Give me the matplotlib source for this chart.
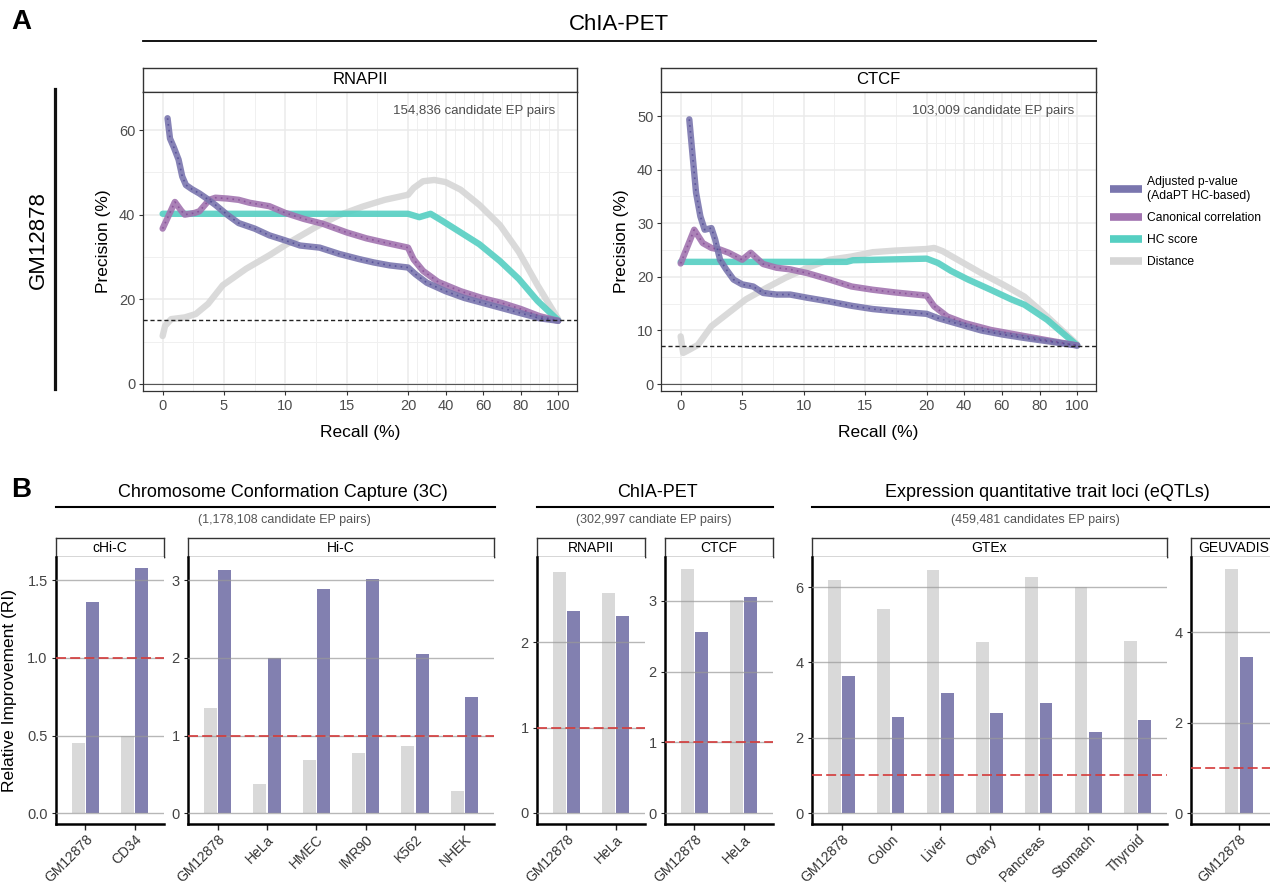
import numpy as np
import matplotlib
matplotlib.use("Agg")
import matplotlib.pyplot as plt
from matplotlib.lines import Line2D

plt.rcParams['font.family'] = ['Liberation Sans', 'DejaVu Sans']

W, H = 1270, 885

# ---------------- panel A: precision / recall curves (values in %) ----------------
methods = ["Adjusted p-value\n(AdaPT HC-based)", "Canonical correlation", "HC score", "Distance"]
line_colors = ["#7a76ae", "#a274b0", "#55cfc2", "#d6d6d6"]
dot_colors = ["#3f3789", "#7a3a8c", None, None]

rna_adj_recall = [0.4, 0.6, 0.9, 1.3, 1.6, 1.9, 2.4, 3.0, 3.6, 4.3, 5.3, 6.2, 7.5, 8.7, 10, 11.2, 12.8,
                  14.4, 16, 17.2, 18.5, 20, 24, 30, 40, 50, 60, 70, 80, 90, 100]
rna_adj_prec = [62.8, 58, 56, 53, 49, 47, 46, 45, 43.8, 42.3, 39.9, 38, 36.7, 35.1, 33.9, 32.7, 32.2,
                30.7, 29.5, 28.7, 28, 27.5, 25.9, 23.9, 21.9, 20.3, 19.1, 17.9, 16.7, 15.5, 14.9]
rna_can_recall = [0, 1.0, 1.5, 1.8, 2.6, 3.0, 3.8, 4.3, 5.3, 6.2, 7.1, 8.7, 10, 11.5, 13.1, 15, 16.6,
                  18.1, 20, 23, 28, 36, 48, 60, 70, 80, 90, 100]
rna_can_prec = [36.7, 43, 41, 40, 40.4, 40.8, 43.5, 44, 43.8, 43.5, 42.8, 42, 40.4, 39, 37.8, 35.8, 34.4,
                33.4, 32.2, 29.4, 26.7, 24.1, 21.9, 20.2, 19.1, 17.7, 16, 14.9]
rna_hc_recall = [0, 20, 26, 32, 38, 48, 58, 69, 79, 89, 100]
rna_hc_prec = [40.2, 40.2, 39.4, 40.2, 38.6, 35.8, 33, 29, 24.8, 19.6, 15]
rna_dist_recall = [0, 0.2, 0.7, 1.8, 2.7, 3.7, 4.9, 6.8, 8.7, 10.6, 12.5, 14.4, 16.3, 18.1, 20, 23, 28,
                   34, 40, 48, 58, 69, 79, 89, 100]
rna_dist_prec = [11.3, 13.7, 15.3, 15.7, 16.5, 18.9, 23.3, 27.2, 30.4, 33.9, 37.1, 39.9, 41.9, 43.5, 44.7,
                 46.3, 47.9, 48.2, 47.7, 45.9, 42.3, 37.5, 31.2, 23.3, 15.3]

ctcf_adj_recall = [0.7, 1.0, 1.25, 1.6, 1.95, 2.5, 2.8, 3.2, 3.7, 4.3, 5, 5.9, 6.7, 7.8, 8.9, 10.3, 12.1,
                   13.9, 15.6, 17.4, 20, 26, 38, 49, 61, 72, 84, 100]
ctcf_adj_prec = [49.4, 41.9, 35.7, 31.3, 28.8, 29.1, 27, 23.2, 21.4, 19.5, 18.6, 18.2, 17, 16.7, 16.7,
                 16.1, 15.4, 14.6, 14, 13.6, 13.1, 12.3, 11.1, 10, 9.2, 8.6, 8, 7.2]
ctcf_can_recall = [0, 1.1, 1.8, 2.5, 3.2, 3.9, 5, 5.7, 6.7, 7.8, 8.9, 10.3, 12.1, 13.9, 15.6, 17.4, 20,
                   24, 31, 40, 54, 68, 82, 100]
ctcf_can_prec = [22.5, 28.8, 26.3, 25.4, 25.1, 24.5, 23.2, 24.5, 22.4, 21.7, 21.4, 20.7, 19.5, 18.2,
                 17.6, 17.1, 16.5, 14.5, 12.6, 11.4, 10.1, 9.2, 8.3, 7.2]
ctcf_hc_recall = [0, 13.5, 14, 20, 26, 33, 42, 54, 65, 72, 84, 100]
ctcf_hc_prec = [22.8, 22.8, 23.1, 23.4, 22.6, 21.1, 19.5, 17.6, 15.8, 14.8, 12, 7.2]
ctcf_dist_recall = [0, 0.2, 0.7, 1.4, 2.5, 3.9, 5.3, 6.7, 8.5, 10.3, 12.1, 13.9, 15.6, 17.4, 20, 24,
                    28.5, 38, 49, 61, 72, 84, 100]
ctcf_dist_prec = [8.9, 5.8, 6.4, 7.3, 10.8, 13.3, 15.8, 17.6, 19.8, 21.7, 23.2, 23.8, 24.6, 24.9, 25.2,
                  25.4, 24.8, 22.9, 20.7, 18.5, 16.3, 12.6, 7.4]

rna_baseline = 15.0
ctcf_baseline = 7.15

recall_ticks = [0, 5, 10, 15, 20, 40, 60, 80, 100]
recall_minor = [2.5, 7.5, 12.5, 17.5, 25, 30, 35, 45, 50, 55, 65, 70, 75, 85, 90, 95]

# ---------------- panel B: relative improvement ----------------
dist_grey = "#d9d9d9"
adj_purple = "#8280b0"

chic_cells = ["GM12878", "CD34"]
chic_dist = [0.45, 0.50]
chic_adj = [1.36, 1.58]

hic_cells = ["GM12878", "HeLa", "HMEC", "IMR90", "K562", "NHEK"]
hic_dist = [1.35, 0.38, 0.69, 0.78, 0.87, 0.29]
hic_adj = [3.13, 2.00, 2.89, 3.02, 2.05, 1.50]

rnapii_cells = ["GM12878", "HeLa"]
rnapii_dist = [2.83, 2.58]
rnapii_adj = [2.37, 2.31]

ctcf_cells = ["GM12878", "HeLa"]
ctcf_dist = [3.45, 3.01]
ctcf_adj = [2.56, 3.06]

gtex_tissues = ["GM12878", "Colon", "Liver", "Ovary", "Pancreas", "Stomach", "Thyroid"]
gtex_dist = [6.20, 5.42, 6.46, 4.54, 6.27, 6.00, 4.58]
gtex_adj = [3.64, 2.55, 3.19, 2.66, 2.91, 2.14, 2.48]

geuv_cells = ["GM12878"]
geuv_dist = [5.41]
geuv_adj = [3.46]

fig = plt.figure(figsize=(12.7, 8.85), dpi=100)


def box(x0, y0, x1, y1):
    return [x0 / W, 1 - y1 / H, (x1 - x0) / W, (y1 - y0) / H]


def hline(x0, x1, y, lw=1.3, color="black"):
    fig.add_artist(Line2D([x0 / W, x1 / W], [1 - y / H, 1 - y / H], color=color, lw=lw))


def strip(x0, y0, x1, y1, label, size):
    sax = fig.add_axes(box(x0, y0, x1, y1))
    sax.set_xticks([])
    sax.set_yticks([])
    for s in sax.spines.values():
        s.set_color("#333333")
        s.set_linewidth(1.0)
    sax.text(0.5, 0.5, label, ha="center", va="center", fontsize=size, transform=sax.transAxes)


K = 0.153


def fwd(x):
    x = np.asarray(x, float)
    return np.where(x <= 20, x, 20 + (x - 20) * K)


def inv(y):
    y = np.asarray(y, float)
    return np.where(y <= 20, y, 20 + (y - 20) / K)


def pr_panel(x0, x1, title, curves, baseline, ylim, yticks, yminor, note):
    strip(x0, 68, x1, 92, title, 12)
    ax = fig.add_axes(box(x0, 92, x1, 391))
    ax.set_xscale("function", functions=(fwd, inv))
    for (rx, py), c, dc in zip(curves[::-1], line_colors[::-1], dot_colors[::-1]):
        ax.plot(rx, py, color=c, lw=4.6, alpha=0.9, solid_capstyle="round", zorder=3)
        if dc:
            ax.plot(rx, py, color=dc, lw=1.2, ls=(0, (1, 2.5)), alpha=0.6, zorder=4)
    ax.axhline(baseline, color="#222222", lw=1, ls=(0, (3, 2)), zorder=5)
    ax.axhline(0, color="#555555", lw=0.8, zorder=1)
    ax.set_xlim(-1.6, 110)
    ax.set_ylim(*ylim)
    ax.set_xticks(recall_ticks)
    ax.set_xticklabels([str(t) for t in recall_ticks])
    ax.set_xticks(recall_minor, minor=True)
    ax.set_yticks(yticks)
    ax.set_yticks(yminor, minor=True)
    ax.grid(which="major", color="#ebebeb", lw=1.1, zorder=0)
    ax.grid(which="minor", color="#f0f0f0", lw=0.7, zorder=0)
    ax.set_axisbelow(True)
    ax.tick_params(which="major", length=3, width=0.8, color="#333333", labelcolor="#4d4d4d",
                   labelsize=10.5, pad=2.5)
    ax.tick_params(which="minor", length=0)
    for s in ax.spines.values():
        s.set_color("#333333")
        s.set_linewidth(0.9)
    ax.set_xlabel("Recall (%)", fontsize=12.5, labelpad=9)
    ax.set_ylabel("Precision (%)", fontsize=12.5, labelpad=6)
    ax.text(0.95, 0.936, note, transform=ax.transAxes, ha="right", va="center",
            fontsize=9.5, color="#4d4d4d")
    return ax


# ---- panel A ----
fig.text(21 / W, 1 - 22 / H, "A", fontsize=20, fontweight="bold", ha="center", va="center")
fig.text(619 / W, 1 - 25 / H, "ChIA-PET", fontsize=16, ha="center", va="center")
hline(143, 1096, 41, lw=1.3)
fig.add_artist(Line2D([55 / W, 55 / W], [1 - 89 / H, 1 - 389 / H], color="#111111", lw=2.3))
fig.text(38 / W, 1 - 240 / H, "GM12878", fontsize=16, rotation=90, ha="center", va="center")

pr_panel(143, 577, "RNAPII",
         [(rna_adj_recall, rna_adj_prec), (rna_can_recall, rna_can_prec),
          (rna_hc_recall, rna_hc_prec), (rna_dist_recall, rna_dist_prec)],
         rna_baseline, (-1.7, 69), [0, 20, 40, 60], [10, 30, 50], "154,836 candidate EP pairs")
pr_panel(661, 1096, "CTCF",
         [(ctcf_adj_recall, ctcf_adj_prec), (ctcf_can_recall, ctcf_can_prec),
          (ctcf_hc_recall, ctcf_hc_prec), (ctcf_dist_recall, ctcf_dist_prec)],
         ctcf_baseline, (-1.3, 54.5), [0, 10, 20, 30, 40, 50], [5, 15, 25, 35, 45],
         "103,009 candidate EP pairs")

handles = [Line2D([], [], color=c, lw=5.5, solid_capstyle="butt") for c in line_colors]
fig.legend(handles, methods, loc="upper left", bbox_to_anchor=(1105 / W, 1 - 171 / H),
           frameon=False, fontsize=8.7, handlelength=2.7, handletextpad=0.35,
           labelspacing=0.85, borderaxespad=0)


# ---- panel B ----
def bar_panel(x0, x1, label, cats, dist, adj, ylim, yticks, ylabels, xlim=None):
    strip(x0, 538, x1, 557, label, 10)
    ax = fig.add_axes(box(x0, 557, x1, 824))
    pos = np.arange(len(cats))
    ax.bar(pos - 0.145, dist, width=0.26, color=dist_grey, zorder=2)
    ax.bar(pos + 0.145, adj, width=0.26, color=adj_purple, zorder=2)
    for t in yticks:
        ax.axhline(t, color="#999999", alpha=0.7, lw=1.0, zorder=3)
    ax.axhline(1, color="#d43a3a", lw=1.2, ls=(0, (6, 2.5)), zorder=4)
    ax.set_xlim(*(xlim or (-0.6, len(cats) - 0.4)))
    ax.set_ylim(*ylim)
    ax.set_yticks(yticks)
    ax.set_yticklabels(ylabels)
    ax.set_xticks(pos)
    ax.set_xticklabels(cats, rotation=45, ha="right", va="top", rotation_mode="anchor")
    ax.tick_params(axis="x", length=4, width=1, color="#222222", labelcolor="#333333",
                   labelsize=10, pad=2)
    ax.tick_params(axis="y", length=3, width=0.8, color="#222222", labelcolor="#444444",
                   labelsize=10.5, pad=3)
    for side in ("top", "right"):
        ax.spines[side].set_visible(False)
    for side in ("left", "bottom"):
        ax.spines[side].set_linewidth(1.8)
        ax.spines[side].set_color("black")
    return ax


fig.text(21 / W, 1 - 490 / H, "B", fontsize=20, fontweight="bold", ha="center", va="center")

fig.text(283 / W, 1 - 493 / H, "Chromosome Conformation Capture (3C)", fontsize=13,
         ha="center", va="center")
hline(56, 495, 507, lw=1.5)
fig.text(284 / W, 1 - 520 / H, "(1,178,108 candidate EP pairs)", fontsize=9, color="#555555",
         ha="center", va="center")

fig.text(657 / W, 1 - 493 / H, "ChIA-PET", fontsize=13, ha="center", va="center")
hline(537, 773, 507, lw=1.5)
fig.text(654 / W, 1 - 520 / H, "(302,997 candiate EP pairs)", fontsize=9, color="#555555",
         ha="center", va="center")

fig.text(1047 / W, 1 - 493 / H, "Expression quantitative trait loci (eQTLs)", fontsize=13,
         ha="center", va="center")
hline(812, 1270, 507, lw=1.5)
fig.text(1035 / W, 1 - 520 / H, "(459,481 candidates EP pairs)", fontsize=9, color="#555555",
         ha="center", va="center")

fig.text(10 / W, 1 - 690 / H, "Relative Improvement (RI)", fontsize=12.5, rotation=90,
         ha="center", va="center")

bar_panel(56, 164, "cHi-C", chic_cells, chic_dist, chic_adj, (-0.07, 1.65),
          [0, 0.5, 1.0, 1.5], ["0.0", "0.5", "1.0", "1.5"])
bar_panel(188, 494, "Hi-C", hic_cells, hic_dist, hic_adj, (-0.14, 3.3),
          [0, 1, 2, 3], ["0", "1", "2", "3"])
bar_panel(537, 645, "RNAPII", rnapii_cells, rnapii_dist, rnapii_adj, (-0.13, 3.0),
          [0, 1, 2], ["0", "1", "2"])
bar_panel(665, 773, "CTCF", ctcf_cells, ctcf_dist, ctcf_adj, (-0.155, 3.62),
          [0, 1, 2, 3], ["0", "1", "2", "3"])
bar_panel(812, 1167, "GTEx", gtex_tissues, gtex_dist, gtex_adj, (-0.29, 6.8),
          [0, 2, 4, 6], ["0", "2", "4", "6"])
bar_panel(1191, 1277, "GEUVADIS", geuv_cells, geuv_dist, geuv_adj, (-0.24, 5.67),
          [0, 2, 4], ["0", "2", "4"], xlim=(-0.97, 0.77))

fig.savefig("out.png", dpi=100)
